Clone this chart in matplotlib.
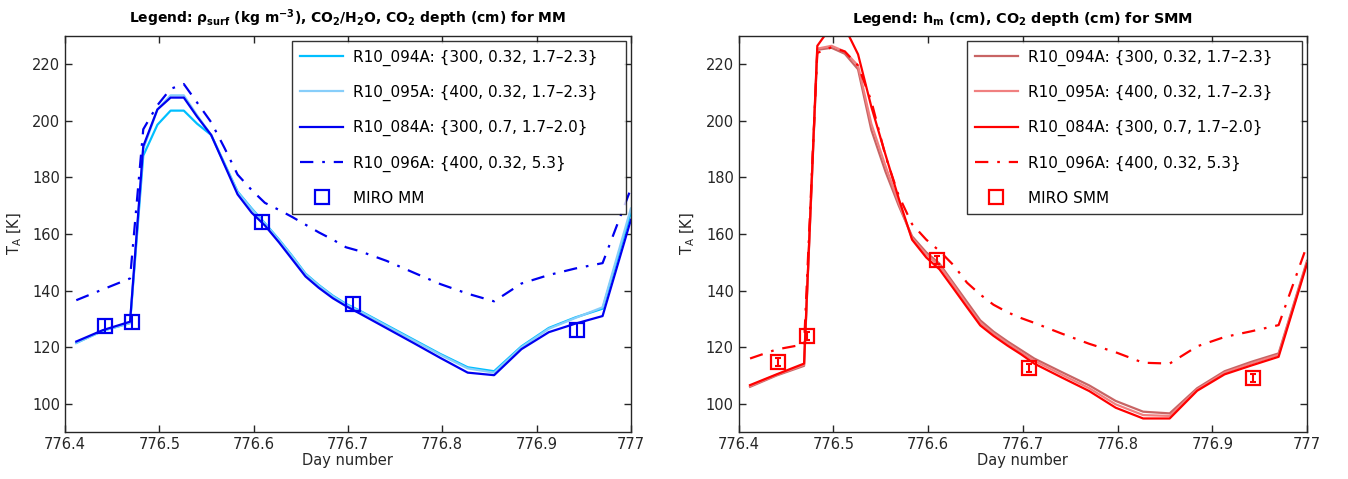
import matplotlib
matplotlib.use("Agg")
import matplotlib.pyplot as plt
import numpy as np

# model time grid (day number), shared by all runs
t = [776.412, 776.440, 776.469, 776.483, 776.498, 776.512, 776.526, 776.540, 776.555, 776.569,
     776.583, 776.598, 776.612, 776.627, 776.641, 776.655, 776.669, 776.684, 776.698, 776.712,
     776.741, 776.770, 776.798, 776.827, 776.855, 776.884, 776.913, 776.941, 776.970, 777.0]

# MM (left panel)
mm_094A = [121.5, 125.8, 128.5, 187.7, 198.6, 203.6, 203.6, 199.0, 195.0, 185.0,
           175.0, 169.0, 163.8, 158.0, 152.2, 146.0, 142.0, 138.2, 135.3, 133.0,
           127.8, 122.6, 117.6, 112.9, 111.5, 120.3, 126.8, 130.5, 133.6, 167.5]
mm_095A = [121.5, 125.8, 128.5, 190.0, 204.0, 209.0, 209.0, 202.0, 195.0, 184.8,
           174.8, 168.8, 163.6, 157.8, 152.0, 145.8, 141.8, 138.0, 135.0, 132.8,
           127.5, 122.3, 117.3, 112.5, 111.0, 120.0, 126.5, 130.3, 134.1, 169.0]
mm_084A = [122.0, 126.0, 129.0, 191.0, 204.0, 208.2, 208.2, 201.5, 195.0, 184.5,
           174.0, 167.5, 163.0, 157.0, 151.0, 145.0, 141.0, 137.3, 134.5, 132.0,
           126.7, 121.4, 116.2, 111.0, 110.1, 119.3, 125.3, 128.3, 131.0, 165.0]
mm_096A = [136.6, 140.4, 144.3, 197.0, 205.5, 211.3, 213.0, 206.5, 199.5, 190.5,
           181.0, 175.5, 171.0, 168.5, 166.0, 163.3, 160.6, 158.0, 155.3, 154.0,
           150.5, 146.3, 142.3, 138.9, 136.2, 142.5, 145.5, 147.8, 149.7, 176.0]
miro_mm_t = [776.442, 776.471, 776.609, 776.705, 776.943]
miro_mm = [127.4, 128.8, 164.1, 135.2, 126.2]

# SMM (right panel)
smm_094A = [106.0, 110.0, 113.4, 225.1, 225.8, 223.7, 218.2, 196.8, 182.0, 170.0,
            159.2, 153.5, 149.5, 142.5, 136.0, 129.5, 125.5, 122.0, 119.0, 116.0,
            111.2, 106.5, 101.0, 97.2, 96.6, 105.5, 111.5, 114.8, 117.8, 150.5]
smm_095A = [106.3, 110.2, 113.8, 225.5, 226.5, 224.5, 219.5, 199.0, 184.0, 171.0,
            158.5, 152.8, 148.8, 141.8, 135.0, 128.6, 124.8, 121.3, 118.2, 115.2,
            110.3, 105.5, 99.8, 96.0, 95.7, 105.0, 111.0, 114.2, 117.3, 150.0]
smm_084A = [106.6, 110.4, 114.2, 226.5, 233.5, 233.0, 223.5, 205.0, 188.0, 172.5,
            158.0, 151.7, 147.5, 140.6, 134.1, 127.7, 124.0, 120.5, 117.5, 114.2,
            109.3, 104.5, 98.6, 94.8, 94.8, 104.6, 110.4, 113.5, 116.6, 149.5]
smm_096A = [116.0, 119.2, 121.0, 224.0, 226.0, 224.5, 219.5, 207.0, 187.5, 173.5,
            163.5, 158.0, 154.0, 148.9, 142.8, 138.6, 135.0, 132.3, 130.3, 128.6,
            124.8, 121.2, 118.2, 114.5, 114.2, 120.3, 123.6, 125.6, 127.8, 156.0]
miro_smm_t = [776.442, 776.472, 776.609, 776.706, 776.943]
miro_smm = [114.6, 124.0, 150.9, 112.6, 109.0]

labels = ["R10_094A: {300, 0.32, 1.7\u20132.3}",
          "R10_095A: {400, 0.32, 1.7\u20132.3}",
          "R10_084A: {300, 0.7, 1.7\u20132.0}",
          "R10_096A: {400, 0.32, 5.3}"]
xticks = [776.4, 776.5, 776.6, 776.7, 776.8, 776.9, 777.0]
xticklabels = ["776.4", "776.5", "776.6", "776.7", "776.8", "776.9", "777"]
yticks = [100, 120, 140, 160, 180, 200, 220]

plt.rcParams["font.family"] = ["DejaVu Sans"]
plt.rcParams["mathtext.default"] = "regular"
AXC = "#262626"
DASHDOT = (0, (6, 4, 1.2, 4))


def draw_panel(ax, series, colors, miro_t, miro_y, miro_label, mcolor, title, capsize, yerr,
               title_size):
    for y, c, lab in zip(series[:3], colors[:3], labels[:3]):
        ax.plot(t, y, color=c, lw=1.6, label=lab)
    ax.plot(t, series[3], color=colors[3], lw=1.6, linestyle=DASHDOT, label=labels[3])
    ax.errorbar(miro_t, miro_y, yerr=yerr, fmt="none", ecolor=mcolor, elinewidth=1.5,
                capsize=capsize, capthick=1.5)
    ax.plot(miro_t, miro_y, "s", ms=9.5, mfc="none", mec=mcolor, mew=1.6, label=miro_label)

    ax.set_xlim(776.4, 777.0)
    ax.set_ylim(90, 230)
    ax.set_xticks(xticks)
    ax.set_xticklabels(xticklabels)
    ax.set_yticks(yticks)
    ax.tick_params(direction="in", length=5, width=1, top=True, right=True,
                   colors=AXC, labelsize=10.5, labelcolor=AXC)
    for sp in ax.spines.values():
        sp.set_color(AXC)
        sp.set_linewidth(1)
    ax.set_xlabel("Day number", fontsize=10.5, color=AXC, labelpad=1)
    ax.set_ylabel("T$_A$ [K]", fontsize=10.5, color=AXC, labelpad=6)
    ax.set_title(title, fontsize=title_size, fontweight="bold", pad=9)
    # box spanning fixed width, text left-aligned with room on the right
    leg = ax.legend(loc="upper left", bbox_to_anchor=(0.401, 0.0, 0.591, 0.987), mode="expand",
                    fontsize=11, frameon=True, fancybox=False, edgecolor="black",
                    borderaxespad=0.0, labelspacing=1.25, handlelength=2.8,
                    handletextpad=0.65, borderpad=0.55)
    leg.get_frame().set_linewidth(1)


fig = plt.figure(figsize=(13.48, 4.79), dpi=100)
ax1 = fig.add_axes([0.0482, 0.098, 0.468 - 0.0482, 0.925 - 0.098])
ax2 = fig.add_axes([0.548, 0.098, 0.9696 - 0.548, 0.925 - 0.098])

draw_panel(ax1, [mm_094A, mm_095A, mm_084A, mm_096A],
           ["#00BFFF", "#87CEFA", "#0000F0", "#0000F0"],
           miro_mm_t, miro_mm, "MIRO MM", "#0000F0",
           "Legend: $\\rho_{surf}$ (kg m$^{-3}$), CO$_2$/H$_2$O, CO$_2$ depth (cm) for MM",
           0, 2.4, 10.0)
draw_panel(ax2, [smm_094A, smm_095A, smm_084A, smm_096A],
           ["#C86464", "#F08080", "#FF0000", "#FF0000"],
           miro_smm_t, miro_smm, "MIRO SMM", "#FF0000",
           "Legend: h$_m$ (cm), CO$_2$ depth (cm) for SMM",
           2.5, 1.4, 10.4)

fig.savefig("out.png", dpi=100)
